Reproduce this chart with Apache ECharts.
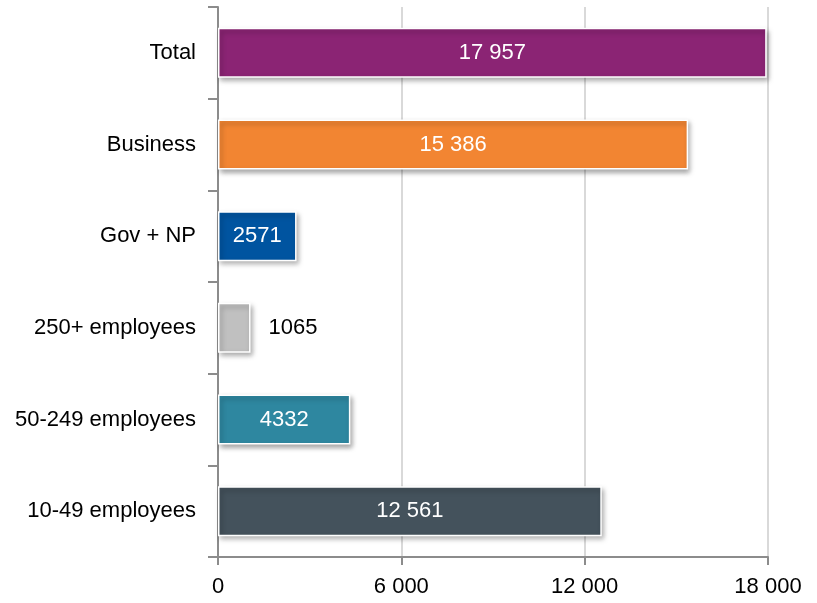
<!DOCTYPE html>
<html>
<head>
<meta charset="utf-8">
<script src="https://cdn.jsdelivr.net/npm/echarts@6/dist/echarts.min.js"></script>
<style>
    html, body {margin: 0; padding: 0; background: #fff;}
    #main {width: 817px; height: 603px;}
</style>
</head>
<body>
<div id="main"></div>
<script>
const FONT = "'Liberation Sans Narrow', 'Arial Narrow', 'Liberation Sans', sans-serif";

// top to bottom as drawn
const categories = ['Total', 'Business', 'Gov + NP', '250+ employees', '50-249 employees', '10-49 employees'];
const values = [17957, 15386, 2571, 1065, 4332, 12561];
const colors = ['#8b2474', '#f28532', '#0054a0', '#c0c0c0', '#2e87a0', '#44525c'];
const xTicks = [0, 6000, 12000, 18000];

function fmt(v) {
    // 4-digit numbers stay plain, larger ones get a space separator
    if (v < 10000) return String(v);
    return String(v).replace(/\B(?=(\d{3})+(?!\d))/g, ' ');
}

let myChart = echarts.init(document.getElementById('main'));

let barData = values.map(function (v, i) {
    let item = {value: v, itemStyle: {color: colors[i]}};
    if (v < 2000) {
        item.label = {position: 'right', distance: 18, color: '#000'};
    }
    return item;
});

let option = {
    animation: false,
    grid: {left: 218, right: 49, top: 7, bottom: 46},
    xAxis: {
        type: 'value',
        min: 0,
        max: 18000,
        interval: 6000,
        axisLine: {show: true, lineStyle: {color: '#8c8c8c', width: 2}},
        axisTick: {show: true, length: 8, lineStyle: {color: '#8c8c8c', width: 2}},
        axisLabel: {
            fontFamily: FONT, fontSize: 22, color: '#000', margin: 19,
            formatter: function (v) { return xTicks.indexOf(v) >= 0 ? (v === 0 ? '0' : String(v).replace(/\B(?=(\d{3})+(?!\d))/g, ' ')) : ''; }
        },
        splitLine: {show: true, lineStyle: {color: '#d9d9d9', width: 2}}
    },
    yAxis: {
        type: 'category',
        inverse: true,
        data: categories,
        axisLine: {show: true, lineStyle: {color: '#8c8c8c', width: 2}},
        axisTick: {show: true, length: 10, lineStyle: {color: '#8c8c8c', width: 2}},
        axisLabel: {fontFamily: FONT, fontSize: 22, color: '#000', margin: 22}
    },
    series: [{
        type: 'bar',
        barWidth: 50,
        data: barData,
        itemStyle: {
            borderColor: '#fff',
            borderWidth: 1.5,
            shadowColor: 'rgba(0,0,0,0.35)',
            shadowBlur: 5,
            shadowOffsetX: 2,
            shadowOffsetY: 3
        },
        label: {
            show: true,
            position: 'inside',
            fontFamily: FONT,
            fontSize: 22,
            color: '#fff',
            formatter: function (p) { return fmt(p.value); }
        }
    }]
};

myChart.setOption(option, true);
</script>
</body>
</html>
